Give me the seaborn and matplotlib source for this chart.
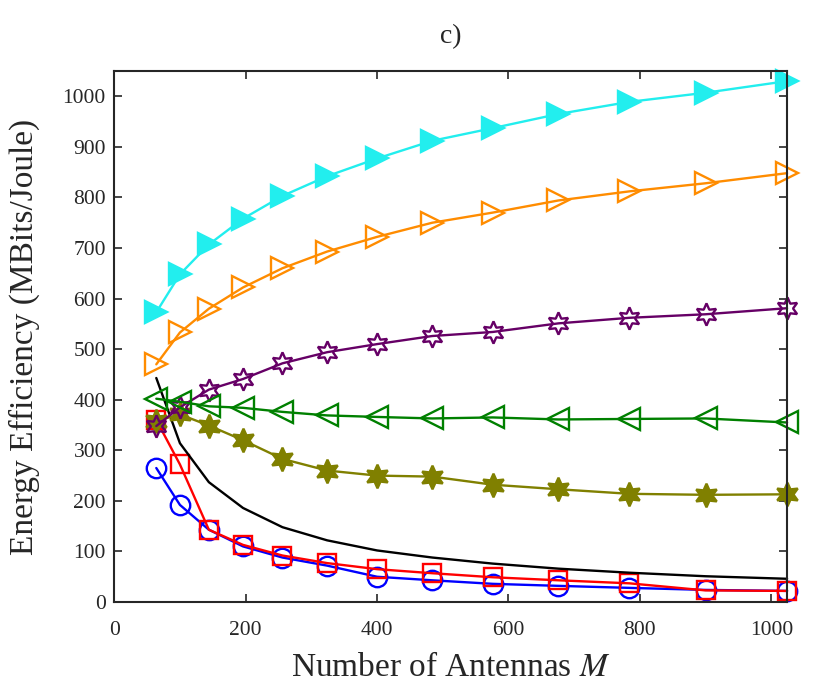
import matplotlib
matplotlib.use("Agg")
import matplotlib.pyplot as plt
import numpy as np
import pandas as pd
import seaborn as sns

# number of antennas (squares 8^2 .. 32^2)
antennas = [64, 100, 144, 196, 256, 324, 400, 484, 576, 676, 784, 900, 1024]

ee_cyan = [573, 648, 707, 758, 803, 842, 877, 912, 937, 965, 989, 1007, 1030]
ee_orange = [470, 533, 580, 622, 660, 693, 722, 750, 770, 794, 812, 828, 848]
ee_purple = [348, 385, 420, 441, 472, 494, 510, 526, 534, 551, 562, 569, 581]
ee_green = [402, 396, 387, 384, 376, 369, 366, 363, 365, 361, 362, 363, 355]
ee_olive = [358, 371, 349, 320, 283, 260, 250, 248, 232, 223, 214, 212, 213]
ee_black = [443, 314, 237, 186, 148, 122, 102, 88, 76, 66, 58, 51, 46]
ee_red = [360, 272, 143, 113, 92, 77, 65, 57, 49, 43, 37, 23, 22]
ee_blue = [265, 192, 143, 110, 88, 72, 50, 43, 36, 32, 28, 24, 22]

sns.set_style("ticks")
plt.rcParams["font.family"] = ["Liberation Serif", "DejaVu Serif"]
plt.rcParams["mathtext.fontset"] = "stix"

fig = plt.figure(figsize=(8.4, 6.96), dpi=100)
ax = fig.add_axes([0.136, 0.135, 0.801, 0.763])

star6 = (6, 1, 0)
series = [
    (ee_blue, "#0000FF", "o", False, 14),
    (ee_red, "#FF0000", "s", False, 13),
    (ee_black, "#000000", None, False, 0),
    (ee_olive, "#808000", star6, True, 17),
    (ee_purple, "#660066", star6, False, 16),
    (ee_green, "#008000", "<", False, 16),
    (ee_orange, "#FF8C00", ">", False, 16),
    (ee_cyan, "#22EEEE", ">", True, 16),
]

for vals, col, mk, filled, ms in series:
    df = pd.DataFrame({"M": antennas, "EE": vals})
    kw = dict(color=col, linewidth=1.7, clip_on=False)
    if mk is not None:
        kw.update(marker=mk, markersize=ms, markeredgecolor=col,
                  markeredgewidth=1.7,
                  markerfacecolor=col if filled else "none")
    sns.lineplot(data=df, x="M", y="EE", ax=ax, **kw)

ax.set_xlim(0, 1024)
ax.set_ylim(0, 1050)
ax.set_xticks(np.arange(0, 1001, 200))
ax.set_yticks(np.arange(0, 1001, 100))
ax.tick_params(direction="in", top=True, right=True, labelsize=15.5,
               length=6, width=1.2)
ax.tick_params(axis="x", pad=14)
ax.tick_params(axis="y", pad=6)
for s in ax.spines.values():
    s.set_linewidth(1.5)

ax.set_xlabel("Number of Antennas $M$", fontsize=24, labelpad=9)
ax.set_ylabel("Energy Efficiency (MBits/Joule)", fontsize=24, labelpad=16)
ax.set_title("c)", fontsize=20, pad=20)

fig.savefig("out.png", dpi=100)
